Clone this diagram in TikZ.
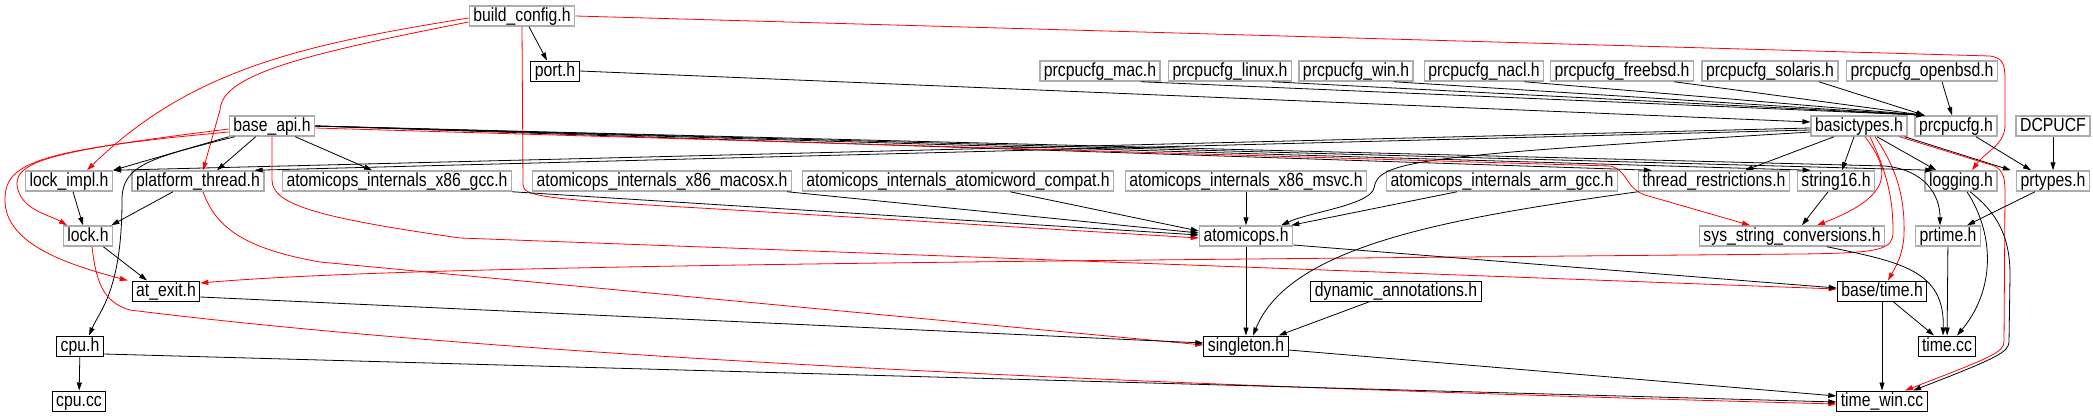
\documentclass[tikz,border=0pt]{standalone}
\usepackage{fontspec}
\setmainfont{Liberation Sans}[FakeStretch=0.83]
\usepackage{tikz}
\usetikzlibrary{arrows.meta,calc,positioning}

\begin{document}
\begin{tikzpicture}[x=1pt, y=-1pt,
    >={Triangle[length=8pt,width=5pt]},
    file/.style={draw=gray!65, line width=1.5pt, fill=white, inner xsep=4pt, inner ysep=0pt,
        minimum height=20pt, text height=13.5pt, text depth=3.5pt,
        font=\fontsize{19}{20}\selectfont},
    docfile/.style={file, draw=black, line width=1pt},
    dep/.style={->, black, line width=0.8pt},
    redep/.style={->, red, line width=0.8pt}]
    \useasboundingbox (0,0) rectangle (2093,415);

    % Top rows
    \node[file] (build) at (522,16) {build\_config.h};
    \node[docfile] (port) at (555,71) {port.h};
    \node[file] (mac) at (1100,71) {prcpucfg\_mac.h};
    \node[file] (linux) at (1230,71) {prcpucfg\_linux.h};
    \node[file] (win) at (1356,71) {prcpucfg\_win.h};
    \node[file] (nacl) at (1484,71) {prcpucfg\_nacl.h};
    \node[file] (freebsd) at (1622,71) {prcpucfg\_freebsd.h};
    \node[file] (solaris) at (1770,71) {prcpucfg\_solaris.h};
    \node[file] (openbsd) at (1922,71) {prcpucfg\_openbsd.h};

    \node[file] (baseapi) at (272,126) {base\_api.h};
    \node[file] (basictypes) at (1859,126) {basictypes.h};
    \node[file] (prcpucfg) at (1956,126) {prcpucfg.h};
    \node[file] (dcpucf) at (2053,126) {DCPUCF};

    % Middle row
    \node[file] (lockimpl) at (69,181) {lock\_impl.h};
    \node[file] (pthread) at (198,181) {platform\_thread.h};
    \node[file] (gcc) at (397,181) {atomicops\_internals\_x86\_gcc.h};
    \node[file] (macosx) at (662,181) {atomicops\_internals\_x86\_macosx.h};
    \node[file] (compat) at (958,181) {atomicops\_internals\_atomicword\_compat.h};
    \node[file] (msvc) at (1246,181) {atomicops\_internals\_x86\_msvc.h};
    \node[file] (arm) at (1502,181) {atomicops\_internals\_arm\_gcc.h};
    \node[file] (threadr) at (1714,181) {thread\_restrictions.h};
    \node[file] (string16) at (1836,181) {string16.h};
    \node[file] (logging) at (1961,181) {logging.h};
    \node[file] (prtypes) at (2053,181) {prtypes.h};

    \node[file] (lock) at (88,236) {lock.h};
    \node[file] (atomicops) at (1246,236) {atomicops.h};
    \node[file] (sysstr) at (1792,236) {sys\_string\_conversions.h};
    \node[file] (prtime) at (1948,236) {prtime.h};

    % Lower rows
    \node[docfile] (atexit) at (166,291) {at\_exit.h};
    \node[docfile] (dynann) at (1396,291) {dynamic\_annotations.h};
    \node[docfile] (basetime) at (1882,291) {base/time.h};
    \node[docfile] (cpuh) at (80,346) {cpu.h};
    \node[docfile] (singleton) at (1246,346) {singleton.h};
    \node[docfile] (timecc) at (1947,346) {time.cc};
    \node[docfile] (cpucc) at (79,401) {cpu.cc};
    \node[docfile] (timewin) at (1882,401) {time\_win.cc};

    % build_config.h
    \draw[dep] ([xshift=7]build.south) -- ([xshift=-8]port.north);
    \draw[redep] ([yshift=-2]build.west) .. controls (300,45) and (190,70) .. ([xshift=18]lockimpl.north);
    \draw[redep] ([yshift=-6]build.west) .. controls (300,55) and (222,75) .. (220,110) -- ([xshift=5]pthread.north);
    \draw[redep] (build.south) -- (523,185) .. controls (524,196) and (540,199) .. (700,208) -- ([yshift=-2]atomicops.west);
    \draw[redep] (build.east) -- (1990,56) .. controls (2003,58) and (2005,64) .. (2005,80) -- (2005,125) .. controls (2005,145) and (1985,152) .. ([xshift=11]logging.north);

    % port.h and prcpucfg
    \draw[dep] (port.east) -- ([yshift=4]basictypes.west);
    \foreach \n in {mac,linux,win,nacl,freebsd,solaris}
        \draw[dep] ([xshift=-20]\n.south east) -- ([xshift=10]prcpucfg.north west);
    \draw[dep] ([xshift=20]openbsd.south) -- ([xshift=-4]prcpucfg.north);
    \draw[dep] ([xshift=20]prcpucfg.south) -- ([xshift=-22]prtypes.north);
    \draw[dep] (dcpucf) -- (prtypes);

    % basictypes.h
    \draw[dep] ([xshift=-3]basictypes.south east) -- ([xshift=-5]prtypes.north west);
    \draw[dep] ([xshift=18]basictypes.south) -- ([xshift=12]logging.north west);
    \draw[dep] ([xshift=-5]basictypes.south) -- ([xshift=6]string16.north);
    \draw[dep] ([xshift=-25]basictypes.south) -- ([xshift=-45]threadr.north east);
    \draw[dep] ([yshift=-2]basictypes.west) -- (lockimpl.north east);
    \draw[dep] ([yshift=-4]basictypes.west) -- ([xshift=-10]pthread.north east);
    \draw[dep] ([yshift=-6]basictypes.west) .. controls (1420,156) and (1378,160) .. (1374,188) .. controls (1370,205) and (1310,212) .. ([xshift=-12]atomicops.north east);
    \draw[redep] ([xshift=6]basictypes.south) .. controls (1890,170) and (1895,195) .. ([xshift=25]sysstr.north);
    \draw[redep] ([xshift=11]basictypes.south) .. controls (1888,175) and (1893,200) .. (1893,232) .. controls (1893,250) and (1880,253) .. (1800,254) .. controls (900,262) and (400,266) .. ([yshift=8]atexit.east);
    \draw[redep] ([xshift=16]basictypes.south) .. controls (1898,170) and (1905,200) .. (1904,235) .. controls (1903,255) and (1895,268) .. ([xshift=6]basetime.north);
    \draw[redep] ([xshift=-8]basictypes.south east) -- (1988,164) .. controls (2002,167) and (2005,175) .. (2005,192) -- (2004,342) .. controls (2003,352) and (1995,356) .. ([xshift=23]timewin.north);

    % base_api.h
    \draw[dep] (baseapi.south west) -- (lockimpl.north east);
    \draw[dep] ([xshift=6]baseapi.south west) .. controls (150,158) and (122,165) .. (122,200) .. controls (122,290) and (100,310) .. ([xshift=9]cpuh.north);
    \draw[dep] ([xshift=27]baseapi.south west) -- ([xshift=19]pthread.north);
    \draw[dep] ([xshift=-20]baseapi.south east) -- ([xshift=-25]gcc.north);
    \draw[dep] (baseapi.east) -- ([xshift=14]threadr.north west);
    \draw[dep] (baseapi.east) -- ([xshift=14]string16.north west);
    \draw[dep] (baseapi.east) -- ([xshift=9]logging.north west);
    \draw[dep] (baseapi.east) -- (1885,166) .. controls (1925,170) and (1940,195) .. ([xshift=-8]prtime.north);
    \draw[redep] ([yshift=-2]baseapi.east) -- (1610,166) .. controls (1628,170) and (1625,188) .. (1645,195) -- ([xshift=-42]sysstr.north);
    \draw[redep] ([yshift=-3]baseapi.west) .. controls (60,150) and (15,160) .. (17,185) .. controls (20,210) and (50,215) .. ([xshift=-21]lock.north);
    \draw[redep] ([yshift=-6]baseapi.west) .. controls (30,150) and (5,165) .. (5,200) .. controls (5,245) and (70,265) .. ([xshift=-4]atexit.north west);
    \draw[redep] (baseapi.south) -- (272,180) .. controls (272,205) and (320,218) .. (460,238) -- ([yshift=2]basetime.west);

    % lock, platform_thread
    \draw[dep] ([xshift=4]lockimpl.south) -- ([xshift=-5]lock.north);
    \draw[dep] ([xshift=-25]pthread.south) -- ([xshift=-2]lock.north east);
    \draw[redep] ([xshift=5]pthread.south) .. controls (215,225) and (240,248) .. (320,262) -- ([yshift=1]singleton.west);
    \draw[dep] ([xshift=-10]lock.south east) -- ([xshift=-19]atexit.north);
    \draw[redep] ([xshift=4]lock.south) .. controls (96,280) and (102,302) .. (130,310) .. controls (450,350) and (1000,382) .. ([yshift=-3]timewin.west);
    \draw[dep] ([yshift=-6]atexit.east) -- ([yshift=3]singleton.west);

    % atomicops
    \draw[dep] (gcc.south east) -- ([yshift=1]atomicops.west);
    \draw[dep] ([xshift=-5]macosx.south east) -- ([yshift=3]atomicops.west);
    \draw[dep] ([xshift=52]compat.south) -- ([yshift=5]atomicops.west);
    \draw[dep] (msvc) -- (atomicops);
    \draw[dep] ([xshift=-45]arm.south) -- ([xshift=-2]atomicops.north east);
    \draw[dep] (atomicops) -- (singleton);
    \draw[dep] ([yshift=-9]atomicops.east) -- ([yshift=3]basetime.west);

    % singleton
    \draw[dep] (threadr.south west) .. controls (1450,218) and (1290,245) .. ([xshift=7]singleton.north);
    \draw[dep] ([xshift=-26]dynann.south) -- ([xshift=-10]singleton.north east);
    \draw[dep] ([yshift=-4]singleton.east) -- ([yshift=5]timewin.west);

    % time.cc, time_win.cc
    \draw[dep] ([xshift=-8]string16.south) -- ([xshift=10]sysstr.north);
    \draw[dep] ([xshift=-18]prtypes.south) -- ([xshift=19]prtime.north);
    \draw[dep] ([xshift=35]sysstr.south) .. controls (1900,262) and (1945,270) .. ([xshift=-4]timecc.north);
    \draw[dep] (prtime) -- (timecc);
    \draw[dep] ([xshift=11]basetime.south) -- ([xshift=-13]timecc.north);
    \draw[dep] (basetime) -- (timewin);
    \draw[dep] ([xshift=6]logging.south) .. controls (1995,235) and (1995,290) .. ([xshift=10]timecc.north);
    \draw[dep] ([xshift=9]logging.south) .. controls (2000,215) and (2010,240) .. (2010,275) -- (2009,342) .. controls (2008,352) and (2000,357) .. ([xshift=31]timewin.north);

    % cpu
    \draw[dep] ([yshift=-8]cpuh.east) -- ([yshift=-1]timewin.west);
    \draw[dep] (cpuh) -- (cpucc);

\end{tikzpicture}
\end{document}
